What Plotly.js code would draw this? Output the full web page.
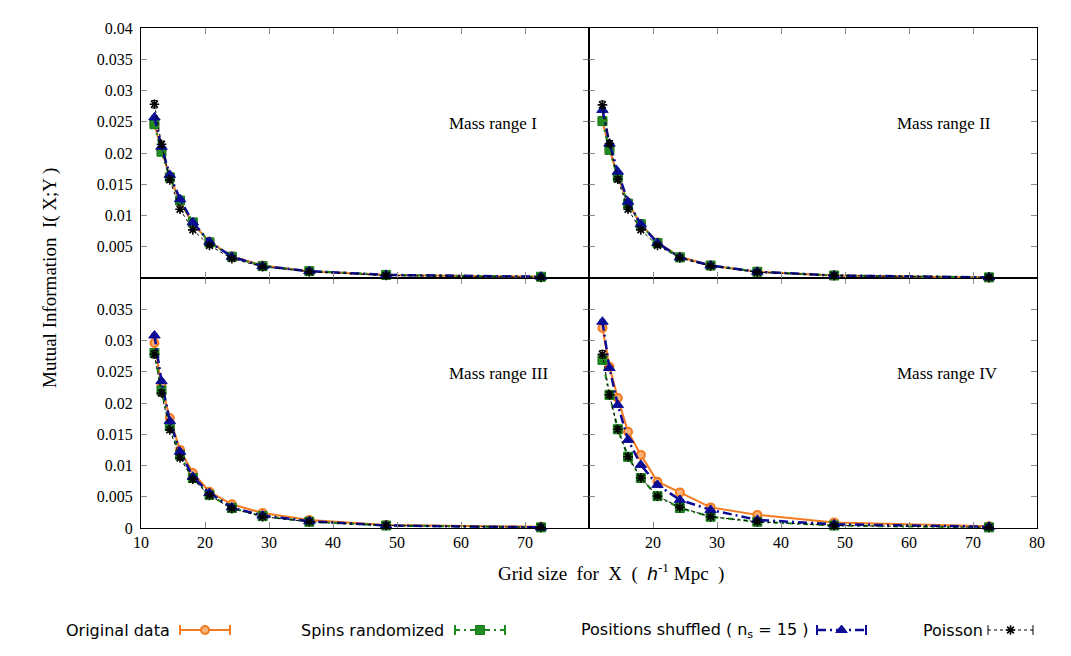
<!DOCTYPE html>
<html>
<head>
<meta charset="utf-8">
<script src="https://cdn.plot.ly/plotly-3.0.1.min.js"></script>
<style>html,body{margin:0;padding:0;background:#fff;}#chart{width:1071px;height:656px;}</style>
</head>
<body>
<div id="chart"></div>
<script>
// ---------------- DATA ----------------
const gridSize = [12.1, 13.2, 14.5, 16.1, 18.1, 20.7, 24.2, 29.0, 36.3, 48.3, 72.5];

// Mass range I
const orig1  = [0.0246, 0.0205, 0.0162, 0.0122, 0.0087, 0.0058, 0.0035, 0.0020, 0.0011, 0.0005, 0.0002];
const spins1 = [0.0246, 0.0202, 0.0161, 0.0124, 0.0089, 0.0057, 0.0034, 0.0019, 0.0011, 0.0005, 0.0002];
const pos1   = [0.0257, 0.0210, 0.0165, 0.0126, 0.0089, 0.0058, 0.0034, 0.0019, 0.0011, 0.0005, 0.0002];
const pois1  = [0.0278, 0.0214, 0.0157, 0.0110, 0.0077, 0.0052, 0.0031, 0.0018, 0.0010, 0.0004, 0.0001];
// Mass range II
const orig2  = [0.0252, 0.0206, 0.0163, 0.0120, 0.0086, 0.0057, 0.0034, 0.0020, 0.0010, 0.0004, 0.0001];
const spins2 = [0.0251, 0.0205, 0.0161, 0.0119, 0.0086, 0.0056, 0.0033, 0.0020, 0.0010, 0.0004, 0.0001];
const pos2   = [0.0269, 0.0215, 0.0170, 0.0122, 0.0086, 0.0056, 0.0033, 0.0020, 0.0010, 0.0004, 0.0001];
const pois2  = [0.0277, 0.0215, 0.0158, 0.0110, 0.0077, 0.0052, 0.0032, 0.0019, 0.0009, 0.0004, 0.0001];
// Mass range III
const orig3  = [0.0296, 0.0228, 0.0176, 0.0125, 0.0088, 0.0058, 0.0038, 0.0024, 0.0013, 0.0005, 0.0002];
const spins3 = [0.0280, 0.0220, 0.0163, 0.0117, 0.0080, 0.0053, 0.0032, 0.0019, 0.0010, 0.0004, 0.0001];
const pos3   = [0.0308, 0.0235, 0.0171, 0.0122, 0.0082, 0.0056, 0.0033, 0.0020, 0.0011, 0.0004, 0.0001];
const pois3  = [0.0278, 0.0216, 0.0157, 0.0112, 0.0078, 0.0052, 0.0031, 0.0018, 0.0010, 0.0004, 0.0001];
// Mass range IV
const orig4  = [0.0320, 0.0258, 0.0208, 0.0154, 0.0117, 0.0074, 0.0057, 0.0033, 0.0021, 0.0009, 0.0003];
const spins4 = [0.0269, 0.0213, 0.0158, 0.0114, 0.0080, 0.0051, 0.0032, 0.0018, 0.0010, 0.0004, 0.0001];
const pos4   = [0.0330, 0.0256, 0.0197, 0.0141, 0.0101, 0.0069, 0.0045, 0.0029, 0.0013, 0.0006, 0.0002];
const pois4  = [0.0278, 0.0213, 0.0158, 0.0114, 0.0080, 0.0051, 0.0033, 0.0018, 0.0010, 0.0004, 0.0001];

// error bar half-widths (estimated)
const errSmall = [0.0003, 0.0003, 0.0002, 0.0002, 0.0002, 0.0001, 0.0001, 0.0001, 0.0001, 0.00005, 0.00005];
const errPois  = [0.0006, 0.0005, 0.0004, 0.0003, 0.0003, 0.0002, 0.0002, 0.0001, 0.0001, 0.0001, 0.0001];

const seriesNames = ['Original data', 'Spins randomized', 'Positions shuffled ( n<sub>s</sub> = 15 )', 'Poisson'];
const panelLabels = ['Mass range I', 'Mass range II', 'Mass range III', 'Mass range IV'];

const xTickVals = [10, 20, 30, 40, 50, 60, 70, 80];
const yTickVals = [0, 0.005, 0.01, 0.015, 0.02, 0.025, 0.03, 0.035, 0.04];
const yTickText = ['0', '0.005', '0.01', '0.015', '0.02', '0.025', '0.03', '0.035', '0.04'];

// ---------------- STYLES ----------------
const W = 1071, H = 656;
const PX = v => v / W, PY = v => 1 - v / H;
const L = 141, M = 589, R = 1037, T = 28, MID = 278, B = 528;

const styles = [
  {line: {color: '#F47A1E', width: 2, dash: 'solid'},
   marker: {symbol: 'circle', size: 8, color: '#F9B27A', line: {color: '#F47A1E', width: 2}}, err: errSmall},
  {line: {color: '#1E8A1E', width: 2.2, dash: '5px,4px,2px,4px'},
   marker: {symbol: 'square', size: 9, color: '#228B22', line: {color: '#1A7A1A', width: 1}}, err: errSmall},
  {line: {color: '#0B0B96', width: 2.5, dash: '9px,4px,2px,4px'},
   marker: {symbol: 'triangle-up', size: 10, color: '#0B0B96', line: {color: '#0B0B96', width: 1}}, err: errSmall},
  {line: {color: '#000000', width: 1, dash: 'dot'},
   marker: {symbol: 'asterisk-open', size: 8, color: '#000', line: {color: '#000', width: 1.6}}, err: errPois}
];

const panels = [
  {xa: 'x3', ya: 'y3', data: [orig1, spins1, pos1, pois1]},
  {xa: 'x4', ya: 'y4', data: [orig2, spins2, pos2, pois2]},
  {xa: 'x',  ya: 'y',  data: [orig3, spins3, pos3, pois3]},
  {xa: 'x2', ya: 'y2', data: [orig4, spins4, pos4, pois4]}
];

const traces = [];
panels.forEach(p => {
  p.data.forEach((vals, i) => {
    const s = styles[i];
    traces.push({
      type: 'scatter', mode: 'lines+markers', x: gridSize, y: vals,
      xaxis: p.xa, yaxis: p.ya, showlegend: false, cliponaxis: false,
      name: seriesNames[i], line: s.line, marker: s.marker,
      error_y: {type: 'data', array: s.err, visible: true, color: s.line.color, thickness: 1, width: 3}
    });
  });
});

// ---------------- CUSTOM LEGEND (text left, key right) ----------------
const legendY = 630;
const legendPos = [
  {textRight: 172, k0: 180, k1: 230},
  {textRight: 446, k0: 455, k1: 505},
  {textRight: 810, k0: 817, k1: 866},
  {textRight: 985, k0: 988, k1: 1033}
];
const annotations = [];
legendPos.forEach((lp, i) => {
  const s = styles[i];
  const mid = (lp.k0 + lp.k1) / 2;
  traces.push({type: 'scatter', mode: 'lines', x: [lp.k0, lp.k1], y: [legendY, legendY],
    xaxis: 'x5', yaxis: 'y5', showlegend: false, hoverinfo: 'skip', line: s.line});
  traces.push({type: 'scatter', mode: 'markers', x: [lp.k0, lp.k1], y: [legendY, legendY],
    xaxis: 'x5', yaxis: 'y5', showlegend: false, hoverinfo: 'skip',
    marker: {symbol: 'line-ns-open', size: 7, color: s.line.color,
             line: {color: s.line.color, width: i === 3 ? 1 : 2}}});
  traces.push({type: 'scatter', mode: 'markers', x: [mid], y: [legendY],
    xaxis: 'x5', yaxis: 'y5', showlegend: false, hoverinfo: 'skip', marker: s.marker});
  annotations.push({xref: 'x5', yref: 'y5', x: lp.textRight, y: legendY, xanchor: 'right', yanchor: 'middle',
    text: seriesNames[i], showarrow: false, font: {family: 'DejaVu Sans', size: 16, color: '#000'}});
});

// panel labels
[['x3', 'y3'], ['x4', 'y4'], ['x', 'y'], ['x2', 'y2']].forEach((ax, i) => {
  annotations.push({xref: ax[0] + ' domain', yref: ax[1] + ' domain', x: 0.683, y: 0.62,
    xanchor: 'left', yanchor: 'middle', text: panelLabels[i], showarrow: false,
    font: {family: 'Liberation Serif', size: 17, color: '#000'}});
});

// axis titles
annotations.push({xref: 'paper', yref: 'paper', x: PX(50), y: PY(278), textangle: -90,
  xanchor: 'center', yanchor: 'middle', showarrow: false,
  text: 'Mutual Information\u00a0 I( X;Y )', font: {family: 'Liberation Serif', size: 19, color: '#000'}});
annotations.push({xref: 'paper', yref: 'paper', x: PX(611), y: PY(572),
  xanchor: 'center', yanchor: 'middle', showarrow: false,
  text: 'Grid size\u00a0 for\u00a0 X\u00a0 (\u00a0 <span style="font-family:Liberation Sans"><i>h</i></span><sup>-1</sup> Mpc\u00a0 )',
  font: {family: 'Liberation Serif', size: 19, color: '#000'}});

// ---------------- AXES ----------------
const tickFont = {family: 'Liberation Serif', size: 16, color: '#000'};
function xAxis(domain, anchor, labels, hideFirst) {
  const vals = hideFirst ? xTickVals.slice(1) : xTickVals.slice(0, -1);
  return {domain: domain, anchor: anchor, range: [10, 80], tickvals: vals, ticktext: vals.map(String),
    showticklabels: labels, ticks: 'inside', ticklen: 6, tickcolor: '#8a8a8a', tickwidth: 1,
    showline: true, linecolor: '#000', linewidth: 1, mirror: 'ticks', showgrid: false, zeroline: false,
    tickfont: tickFont, fixedrange: true};
}
function yAxis(domain, anchor, labels, top) {
  const idx = top ? [1, 2, 3, 4, 5, 6, 7, 8] : [0, 1, 2, 3, 4, 5, 6, 7];
  return {domain: domain, anchor: anchor, range: [0, 0.04], tickvals: idx.map(k => yTickVals[k]),
    ticktext: idx.map(k => yTickText[k]), showticklabels: labels, ticks: 'inside', ticklen: 6,
    tickcolor: '#8a8a8a', tickwidth: 1, showline: true, linecolor: '#000', linewidth: 1, mirror: 'ticks',
    showgrid: false, zeroline: false, tickfont: tickFont, ticklabelstandoff: 4, fixedrange: true};
}
const dLeft = [PX(L), PX(M)], dRight = [PX(M), PX(R)];
const dTop = [PY(MID), PY(T)], dBot = [PY(B), PY(MID)];

const layout = {
  width: W, height: H, margin: {l: 0, r: 0, t: 0, b: 0},
  paper_bgcolor: '#fff', plot_bgcolor: 'rgba(0,0,0,0)', showlegend: false,
  xaxis: xAxis(dLeft, 'y', true, false),
  yaxis: yAxis(dBot, 'x', true, false),
  xaxis2: xAxis(dRight, 'y2', true, true),
  yaxis2: yAxis(dBot, 'x2', false, false),
  xaxis3: xAxis(dLeft, 'y3', false, false),
  yaxis3: yAxis(dTop, 'x3', true, true),
  xaxis4: xAxis(dRight, 'y4', false, true),
  yaxis4: yAxis(dTop, 'x4', false, true),
  xaxis5: {domain: [0, 1], anchor: 'y5', range: [0, W], visible: false, fixedrange: true},
  yaxis5: {domain: [0, PY(590.4)], anchor: 'x5', range: [H, 590.4], visible: false, fixedrange: true},
  annotations: annotations
};

Plotly.newPlot('chart', traces, layout, {displayModeBar: false, staticPlot: true});
</script>
</body>
</html>
